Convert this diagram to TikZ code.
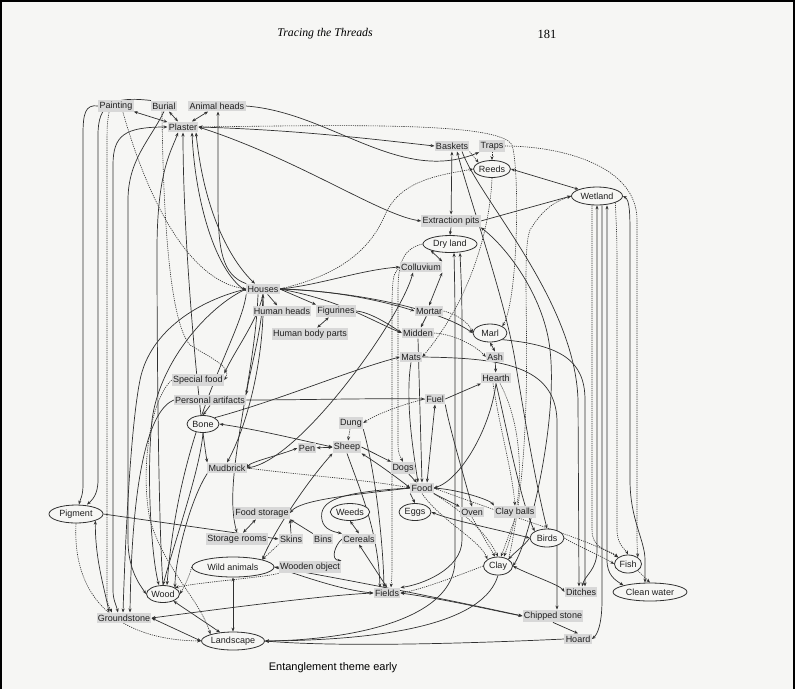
\documentclass[tikz,border=0pt]{standalone}
\usepackage{fontspec}
\setmainfont{Liberation Serif}
\newfontfamily\lab{Liberation Sans}
\usetikzlibrary{arrows.meta,shapes.geometric}
\pgfdeclarelayer{edges}
\pgfsetlayers{edges,main}
\definecolor{pagebg}{RGB}{246,246,244}
\definecolor{boxgray}{RGB}{216,216,216}
\definecolor{ink}{RGB}{48,48,48}
\tikzset{
  bx/.style={fill=boxgray, inner xsep=1.3pt, inner ysep=2pt, font=\lab\fontsize{9}{10}\selectfont, text=black!88},
  el/.style={ellipse, draw=ink, line width=0.8pt, fill=pagebg, inner sep=0pt, font=\lab\fontsize{9}{10}\selectfont, text=black!88},
  ln/.style={draw=ink, line width=0.7pt},
  ar/.style={ln, -{Stealth[length=4pt,width=3.1pt]}},
  bi/.style={ln, {Stealth[length=4pt,width=3.1pt]}-{Stealth[length=4pt,width=3.1pt]}},
  dt/.style={dash pattern=on 1.2pt off 1pt, line width=0.6pt},
}
\begin{document}
\begin{tikzpicture}[x=1pt,y=-1pt]
\begin{pgfonlayer}{edges}
\fill[pagebg] (0,0) rectangle (795,689);
\end{pgfonlayer}
\useasboundingbox (0,0) rectangle (795,689);
\draw[black, line width=2.5pt] (1.2,689) -- (1.2,1.2) -- (793.8,1.2) -- (793.8,689);

% header and caption
\node[font=\itshape\fontsize{11.8}{14}\selectfont] (title) at (325,34) {Tracing the Threads};
\node[font=\fontsize{12.5}{14}\selectfont] (pagenum) at (547,34) {181};
\node[font=\lab\fontsize{11}{13}\selectfont] (cap) at (333,668) {Entanglement theme early};

% ---------- nodes ----------
\node[bx] (painting) at (116,106) {Painting};
\node[bx] (burial) at (164,106) {Burial};
\node[bx] (aheads) at (217,106) {Animal heads};
\node[bx] (plaster) at (183,127) {Plaster};
\node[bx] (baskets) at (452,146) {Baskets};
\node[bx] (traps) at (492,146) {Traps};
\node[bx] (extraction) at (451,221) {Extraction pits};
\node[bx] (colluvium) at (421,267) {Colluvium};
\node[bx] (houses) at (263,289) {Houses};
\node[bx] (hheads) at (282,311) {Human heads};
\node[bx] (figurines) at (336,311) {Figurines};
\node[bx] (hbody) at (310,334) {Human body parts};
\node[bx] (mortar) at (429,311) {Mortar};
\node[bx] (midden) at (418,333) {Midden};
\node[bx] (mats) at (411,357) {Mats};
\node[bx] (ash) at (495,357) {Ash};
\node[bx] (hearth) at (496,378) {Hearth};
\node[bx] (fuel) at (435,399) {Fuel};
\node[bx] (specialfood) at (198,380) {Special food};
\node[bx] (persart) at (210,400) {Personal artifacts};
\node[bx] (dung) at (351,423) {Dung};
\node[bx] (pen) at (307,448) {Pen};
\node[bx] (sheep) at (347,447) {Sheep};
\node[bx] (mudbrick) at (227,468) {Mudbrick};
\node[bx] (dogs) at (403,468) {Dogs};
\node[bx] (food) at (422,488) {Food};
\node[bx] (foodstorage) at (262,513) {Food storage};
\node[bx] (oven) at (472,512) {Oven};
\node[bx] (clayballs) at (515,512) {Clay balls};
\node[bx] (storagerooms) at (237,539) {Storage rooms};
\node[bx] (skins) at (291,539) {Skins};
\node[bx] (bins) at (323,539) {Bins};
\node[bx] (cereals) at (359,539) {Cereals};
\node[bx] (woodenobj) at (310,567) {Wooden object};
\node[bx] (fields) at (387,593) {Fields};
\node[bx] (ditches) at (581,592) {Ditches};
\node[bx] (groundstone) at (124,618) {Groundstone};
\node[bx] (chipped) at (553,616) {Chipped stone};
\node[bx] (hoard) at (578,639) {Hoard};

\node[el, minimum width=37pt, minimum height=17pt] (reeds) at (492,169) {Reeds};
\node[el, minimum width=51pt, minimum height=18pt] (wetland) at (597,196) {Wetland};
\node[el, minimum width=54pt, minimum height=17pt] (dryland) at (450,244) {Dry land};
\node[el, minimum width=34pt, minimum height=18pt] (marl) at (490,333) {Marl};
\node[el, minimum width=32pt, minimum height=17pt] (bone) at (203,424) {Bone};
\node[el, minimum width=54pt, minimum height=18pt] (pigment) at (76,514) {Pigment};
\node[el, minimum width=35pt, minimum height=17pt] (weeds) at (350,512) {Weeds};
\node[el, minimum width=32pt, minimum height=17pt] (eggs) at (415,512) {Eggs};
\node[el, minimum width=34pt, minimum height=18pt] (birds) at (547,538) {Birds};
\node[el, minimum width=29pt, minimum height=18pt] (clay) at (498,566) {Clay};
\node[el, minimum width=27pt, minimum height=18pt] (fish) at (628,564) {Fish};
\node[el, minimum width=82pt, minimum height=20pt] (wildanimals) at (233,567) {Wild animals};
\node[el, minimum width=30pt, minimum height=17pt] (wood) at (163,594) {Wood};
\node[el, minimum width=74pt, minimum height=18pt] (cleanwater) at (650,592) {Clean water};
\node[el, minimum width=63pt, minimum height=18pt] (landscape) at (233,641) {Landscape};

\begin{pgfonlayer}{edges}
% ---------- top left ----------
\draw[bi] (plaster) -- (painting);
\draw[bi] (plaster) -- (burial);
\draw[bi] (plaster) -- (aheads);
\draw[ar] (painting.west) .. controls (85,104) and (83,114) .. (83,135) -- (83,485) .. controls (83,496) and (80,500) .. ([xshift=3pt]pigment.north);
\draw[ar] (burial.north west) .. controls (112,96) and (98,104) .. (98,135) -- (98,480) .. controls (98,495) and (92,500) .. ([xshift=11pt]pigment.north);
\draw[bi] (plaster.west) .. controls (125,127) and (113,135) .. (113,165) -- (113,590) .. controls (113,600) and (116,604) .. ([xshift=-6pt]groundstone.north);
\draw[ar,dt] ([xshift=-7pt]painting.south) .. controls (107,125) .. (107,150) -- (107,595) .. controls (107,602) .. ([xshift=-12pt]groundstone.north);
\draw[ar,dt] ([xshift=7pt]painting.south) .. controls (145,190) and (185,280) .. (houses.west);
\draw[ar,dt] ([xshift=-2pt]burial.south) .. controls (163,200) and (168,320) .. (190,345) .. controls (215,360) and (232,368) .. (specialfood.east);
\draw[ar] (houses.north west) .. controls (222,275) and (218,250) .. (218,200) -- ([xshift=1pt]aheads.south);
\draw[bi] ([xshift=9pt]plaster.south) .. controls (195,200) and (215,270) .. ([yshift=-2pt]houses.west);
\draw[bi] ([xshift=13pt]plaster.south) .. controls (205,220) and (235,265) .. ([xshift=-8pt]houses.north);
\draw[ar] (wood.north) .. controls (158,520) and (157,320) .. (157,250) .. controls (157,170) and (172,150) .. ([xshift=-5pt]plaster.south);
\draw[bi] (plaster.south) .. controls (183,250) and (200,420) .. (mudbrick.north west);
\draw[bi] (plaster.east) .. controls (300,130) and (380,140) .. (baskets.west);
\draw[bi,dt] (plaster.east) .. controls (350,125) and (500,122) .. (512,145) .. controls (520,170) and (518,300) .. (marl.north east);
\draw[ar] (aheads.east) .. controls (330,112) and (400,185) .. (traps.south west);
\draw[ar] (burial.south) .. controls (150,140) and (128,160) .. (128,200) -- (128,540) .. controls (128,570) and (140,585) .. (wood.west);
\draw[bi] (plaster.east) .. controls (300,160) and (380,215) .. (extraction.west);

% ---------- top right ----------
\draw[bi] (baskets) -- (extraction);
\draw[ar,dt] (baskets.south east) -- (reeds.north west);
\draw[ar,dt] (traps.south) -- (reeds.north);
\draw[bi] (reeds.east) -- (wetland.north west);
\draw[ar] (extraction.east) -- (wetland.west);
\draw[ar] (extraction.south) -- (dryland.north);
\draw[bi] (dryland.south west) -- (colluvium.north east);
\draw[bi] (colluvium.south east) -- (mortar.north);
\draw[ar,dt] (clay.north east) .. controls (540,420) and (518,260) .. (530,230) .. controls (545,205) and (560,200) .. (wetland.west);
\draw[ar,dt] (reeds.south) .. controls (490,230) and (470,300) .. (mats.east);
\draw[ar,dt] (houses.east) .. controls (340,275) and (370,250) .. (385,215) .. controls (400,180) and (440,175) .. (reeds.west);
\draw[ar,dt] (dryland.west) .. controls (405,248) and (398,260) .. (398,290) -- (398,440) .. controls (398,452) .. (dogs.north);
\draw[bi] ([xshift=5pt]baskets.south) .. controls (470,200) and (505,300) .. (515,360) .. controls (525,420) and (535,480) .. (birds.north);
\draw[ar] ([xshift=10pt]baskets.south) .. controls (480,200) and (575,300) .. (578,400) -- ([xshift=-2pt]ditches.north);
\draw[bi] (extraction.south east) .. controls (510,250) and (545,300) .. (550,350) .. controls (558,420) and (530,540) .. (clay.east);

% ---------- houses cluster ----------
\draw[ar] (houses.east) .. controls (320,285) and (360,270) .. (colluvium.west);
\draw[ar] (houses.east) .. controls (330,290) and (380,300) .. (mortar.west);
\draw[ar] (houses.east) .. controls (340,300) and (370,320) .. (midden.west);
\draw[ar] (houses) -- (hheads);
\draw[ar] (houses.east) -- (figurines.north west);
\draw[bi] (figurines) -- (hbody);
\draw[ar] (figurines.east) .. controls (370,312) and (390,325) .. (midden.west);
\draw[ar] (mortar) -- (midden);
\draw[ar,dt] (mortar.east) .. controls (460,315) and (470,325) .. (marl.west);
\draw[ar,dt] (midden.east) .. controls (460,335) and (480,350) .. (ash.west);
\draw[bi] (marl.south) -- (ash.north);
\draw[ar] (ash) -- (hearth);
\draw[ar] (fuel.east) -- (hearth.south west);
\draw[ar] (hearth.south) .. controls (490,430) and (460,480) .. (food.east);
\draw[bi] (fuel.south) -- ([xshift=5pt]food.north);
\draw[ar,dt] (fuel.west) .. controls (400,405) and (375,415) .. (dung.east);
\draw[ar] (persart.east) .. controls (300,400) and (380,398) .. (fuel.west);
\draw[ar] (bone.north east) .. controls (280,400) and (350,370) .. (mats.west);
\draw[bi] (bone.east) .. controls (260,430) and (300,440) .. (sheep.west);
\draw[bi] (houses.east) .. controls (360,292) and (440,310) .. (marl.west);
\draw[bi] ([xshift=-8pt]colluvium.south) .. controls (400,320) and (300,460) .. (mudbrick.east);
\draw[ar] (mats.east) .. controls (500,358) and (555,365) .. (557,420) -- ([xshift=4pt]chipped.north);
\draw[ar] (marl.south east) .. controls (560,345) and (585,360) .. (585,400) -- ([xshift=4pt]ditches.north);

% ---------- middle ----------
\draw[ar,dt] (dung) -- (sheep);
\draw[bi] (pen) -- (sheep);
\draw[bi] (mudbrick.east) .. controls (250,462) and (280,455) .. (pen.west);
\draw[ar,dt] (mudbrick.east) .. controls (300,475) and (370,480) .. (food.west);
\draw[ar] (sheep.east) -- (dogs.north west);
\draw[bi] (sheep.south east) .. controls (380,465) and (400,480) .. (food.west);
\draw[ar] (dogs) -- (food);
\draw[ar] (midden.south) -- (food.north);
\draw[ar] (mats.south) .. controls (405,400) and (413,450) .. ([xshift=-4pt]food.north);
\draw[ar] (food.south west) -- (eggs.north);
\draw[ar] (food.south east) -- (oven.north west);
\draw[bi] (food.east) .. controls (460,490) and (490,500) .. (clayballs.north west);
\draw[ar,dt] (food.south) .. controls (440,520) and (480,540) .. (clay.north west);
\draw[ar,dt] (food.south east) .. controls (460,510) and (485,530) .. (clay.north);
\draw[ar,dt] (food.east) .. controls (520,520) and (590,540) .. (fish.north west);
\draw[ar,dt] (oven.south) -- ([xshift=-3pt]clay.north);
\draw[ar,dt] (clayballs.south) -- ([xshift=3pt]clay.north);
\draw[ar] (fuel.south east) .. controls (450,430) and (465,480) .. (oven.north);
\draw[ar] (hearth.south) .. controls (505,420) and (520,500) .. (birds.north west);
\draw[ar,dt] ([xshift=-3pt]hearth.south) .. controls (500,430) and (512,470) .. (clayballs.north);
\draw[ar,dt] ([xshift=4pt]hearth.south) .. controls (525,430) and (525,500) .. ([xshift=6pt]clay.north);
\draw[bi] (birds.west) .. controls (500,530) and (450,520) .. (eggs.east);
\draw[ar,dt] (birds.east) .. controls (575,545) and (600,555) .. (fish.west);
\draw[ar] (birds.west) .. controls (525,545) and (515,552) .. (clay.north east);
\draw[ar] (dung.south east) .. controls (375,470) and (383,540) .. ([xshift=-3pt]fields.north);
\draw[ar] (sheep.south) .. controls (360,490) and (378,530) .. ([xshift=-7pt]fields.north);
\draw[ar,dt] (colluvium.west) .. controls (393,275) .. (392,300) -- (392,560) .. controls (392,575) .. ([xshift=4pt]fields.north);
\draw[bi] (sheep.south west) .. controls (300,490) and (270,540) .. (wildanimals.north east);
\draw[ar] (food.west) .. controls (340,492) and (318,500) .. (322,520) .. controls (324,530) and (335,532) .. (cereals.north west);

% ---------- left side to wood / groundstone ----------
\draw[ar] (houses.west) .. controls (200,300) and (150,330) .. (140,380) .. controls (130,430) and (125,550) .. ([xshift=-1pt]groundstone.north);
\draw[ar] (houses.west) .. controls (210,305) and (160,360) .. (152,420) .. controls (146,480) and (152,560) .. ([xshift=-4pt]wood.north);
\draw[ar] (houses.south west) .. controls (240,340) and (180,420) .. ([xshift=4pt]wood.north);
\draw[bi] (houses.south) .. controls (262,330) and (250,370) .. (persart.north east);
\draw[ar] (houses.south) .. controls (258,320) and (235,350) .. (specialfood.north east);
\draw[ar] (houses.south) .. controls (265,350) and (250,420) .. (mudbrick.north);
\draw[ar] ([xshift=-5pt]houses.south) .. controls (255,380) and (222,480) .. (storagerooms.north);
\draw[ar] (persart.south) -- (bone.north);
\draw[ar,dt] (specialfood.west) .. controls (150,400) and (140,470) .. (150,520) .. controls (165,570) and (200,600) .. (landscape.north west);
\draw[ar] (bone.south) .. controls (200,470) and (175,540) .. (wood.north);
\draw[ar] (persart.west) .. controls (150,410) and (132,470) .. ([xshift=6pt]groundstone.north);
\draw[ar] (mudbrick.south west) .. controls (190,500) and (175,560) .. (wood.north east);

% ---------- bottom ----------
\draw[bi] (clay.east) .. controls (530,575) and (560,585) .. (ditches.west);
\draw[ar,dt] (clay.west) .. controls (460,575) and (420,590) .. (fields.east);
\draw[bi] (fields.east) .. controls (450,600) and (500,612) .. (chipped.west);
\draw[ar] (clay.south) .. controls (485,620) and (400,640) .. (landscape.east);
\draw[ar] (chipped.south) -- (hoard.north);
\draw[ar] (hoard.west) .. controls (500,642) and (350,648) .. (landscape.east);
\draw[bi] (wildanimals.east) .. controls (350,580) and (450,600) .. (chipped.west);
\draw[ar] (wildanimals.east) .. controls (300,575) and (340,590) .. (fields.west);
\draw[bi] (groundstone.east) .. controls (250,605) and (330,595) .. (fields.west);
\draw[bi] (groundstone.east) -- (landscape.west);
\draw[bi] (wood) -- (landscape);
\draw[bi] (wildanimals) -- (landscape);
\draw[ar,dt] (pigment.south) .. controls (72,600) and (120,640) .. (landscape.west);
\draw[bi] (pigment.south east) .. controls (95,560) and (105,590) .. ([xshift=-15pt]groundstone.north);
\draw[ar] (pigment.east) -- (skins.west);
\draw[bi] (foodstorage) -- (storagerooms);
\draw[ar] (skins.north) -- (foodstorage.south east);
\draw[ar] (bins.north west) -- (foodstorage.south east);
\draw[ar] (food.west) .. controls (350,495) and (300,500) .. (foodstorage.east);
\draw[ar,dt] (skins.south west) -- (wildanimals.north east);
\draw[ar,dt] (wildanimals.west) .. controls (190,575) and (185,585) .. (wood.east);
\draw[ar,dt] (woodenobj.south west) .. controls (260,578) and (200,582) .. (wood.north east);
\draw[bi] (weeds.south) -- (cereals.north);
\draw[bi] (cereals.south) -- (fields.north);
\draw[ar] (cereals.west) .. controls (335,545) and (330,560) .. (woodenobj.north east);
\draw[bi] ([xshift=4pt]dryland.south) .. controls (455,300) .. (455,350) -- (455,560) .. controls (455,620) and (350,640) .. (landscape.east);
\draw[bi] ([xshift=10pt]dryland.south) .. controls (462,300) .. (462,350) -- (462,540) .. controls (462,570) and (420,585) .. (fields.north east);

% ---------- right bundle ----------
\draw[ar,dt] ([xshift=-5pt]wetland.south) .. controls (592,240) .. (592,280) -- (592,530) .. controls (592,550) and (610,550) .. (fish.north west);
\draw[bi] (wetland.south) .. controls (597,240) .. (597,280) -- (597,550) .. controls (597,570) and (585,575) .. ([xshift=1pt]ditches.north);
\draw[ar] ([xshift=5pt]wetland.south) .. controls (602,240) .. (602,280) -- (602,600) .. controls (602,625) and (597,635) .. (hoard.east);
\draw[bi] ([xshift=10pt]wetland.south) .. controls (607,230) .. (607,280) -- (607,560) .. controls (607,575) and (615,580) .. (cleanwater.north west);
\draw[ar,dt] (wetland.south east) .. controls (617,240) .. (617,280) -- (617,530) .. controls (617,545) and (626,550) .. (fish.north);
\draw[bi] (wetland.east) .. controls (630,200) and (630,215) .. (630,240) -- (630,480) .. controls (630,520) and (645,540) .. (645,560) -- ([xshift=-5pt]cleanwater.north);
\draw[ar,dt] (traps.east) .. controls (560,146) and (637,165) .. (637,220) -- (637,530) .. controls (637,545) .. (fish.north east);
\draw[ar,dt] (fish.south east) -- (cleanwater.north);
\end{pgfonlayer}
\end{tikzpicture}
\end{document}
